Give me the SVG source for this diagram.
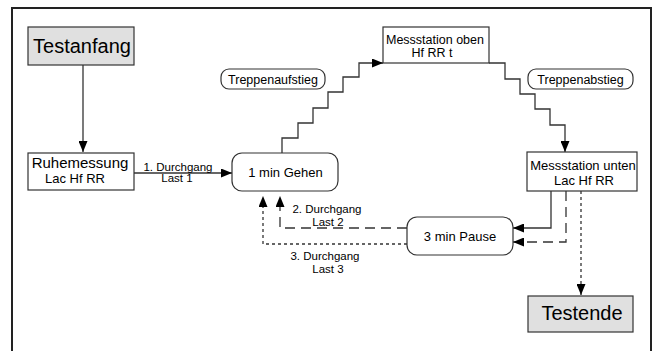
<svg xmlns="http://www.w3.org/2000/svg" width="656" height="351" viewBox="0 0 656 351">
<defs>
<marker id="ah" markerUnits="userSpaceOnUse" markerWidth="11" markerHeight="9" refX="11" refY="4.5" orient="auto">
<path d="M0,0 L11,4.5 L0,9 z" fill="#000"/>
</marker>
<style>
text{font-family:"Liberation Sans",Arial,sans-serif;fill:#000}
.box{fill:#fff;stroke:#333;stroke-width:1.2}
.gray{fill:#e0e0e0;stroke:#333;stroke-width:1.2}
.c{fill:none;stroke:#333;stroke-width:1.3}
.dash{stroke-dasharray:10 6}
.dot{stroke-dasharray:3 3}
.big{font-size:20px}
.mid{font-size:13px}
.sm{font-size:11.5px}
</style>
</defs>
<rect width="656" height="351" fill="#fff"/>
<path d="M12,360 V8 H651 V360" fill="none" stroke="#222" stroke-width="2"/>

<g id="connectors">
<path class="c" d="M83,65 V152" marker-end="url(#ah)"/>
<path class="c" d="M134,173 H232" marker-end="url(#ah)"/>
<path class="c" d="M282,153 V138 H298 V123 H313 V108 H328 V92 H343 V77 H359 V63 H383" marker-end="url(#ah)"/>
<path class="c" d="M489,63 H505 V79 H520 V94 H535 V109 H550 V125 H565 V152" marker-end="url(#ah)"/>
<path class="c" d="M551,191 V228 H513" marker-end="url(#ah)"/>
<path class="c dash" d="M566,191 V242 H513" marker-end="url(#ah)"/>
<path class="c dot" d="M581,191 V295" marker-end="url(#ah)"/>
<path class="c dash" d="M407,228 H280 V196" marker-end="url(#ah)"/>
<path class="c dot" d="M407,244 H263 V196" marker-end="url(#ah)"/>
<text class="sm" x="178" y="171" text-anchor="middle">1. Durchgang</text>
<text class="sm" x="177" y="182" text-anchor="middle">Last 1</text>
<text class="sm" x="327" y="213" text-anchor="middle">2. Durchgang</text>
<text class="sm" x="328" y="226" text-anchor="middle">Last 2</text>
<text class="sm" x="325" y="260" text-anchor="middle">3. Durchgang</text>
<text class="sm" x="328" y="273" text-anchor="middle">Last 3</text>
</g>

<g id="testanfang">
<rect class="gray" x="28" y="27" width="106" height="38"/>
<text class="big" x="82" y="53" text-anchor="middle">Testanfang</text>
</g>
<g id="ruhemessung">
<rect class="box" x="28" y="153" width="106" height="37"/>
<text class="mid" x="80" y="168" text-anchor="middle" style="font-size:15px">Ruhemessung</text>
<text class="mid" x="75" y="183" text-anchor="middle">Lac Hf RR</text>
</g>
<g id="gehen">
<rect class="box" x="232" y="153" width="106" height="38" rx="10"/>
<text class="mid" x="285.5" y="177" text-anchor="middle">1 min Gehen</text>
</g>
<g id="treppenaufstieg">
<rect class="box" x="221" y="69" width="104" height="20" rx="8"/>
<text class="mid" x="273" y="83.5" text-anchor="middle" style="font-size:12.5px">Treppenaufstieg</text>
</g>
<g id="oben">
<rect class="box" x="383" y="27" width="106" height="36"/>
<text class="mid" x="435" y="43.5" text-anchor="middle" style="font-size:12.5px">Messstation oben</text>
<text class="mid" x="432" y="57" text-anchor="middle" style="font-size:12.5px">Hf RR t</text>
</g>
<g id="treppenabstieg">
<rect class="box" x="528" y="69" width="105" height="20" rx="8"/>
<text class="mid" x="580.5" y="83.5" text-anchor="middle" style="font-size:12.5px">Treppenabstieg</text>
</g>
<g id="unten">
<rect class="box" x="527" y="152" width="110" height="39"/>
<text class="mid" x="583" y="170" text-anchor="middle">Messstation unten</text>
<text class="mid" x="584" y="185" text-anchor="middle">Lac Hf RR</text>
</g>
<g id="pause">
<rect class="box" x="407" y="217" width="106" height="38" rx="10"/>
<text class="mid" x="460" y="241" text-anchor="middle">3 min Pause</text>
</g>
<g id="testende">
<rect class="gray" x="528" y="296" width="105" height="36"/>
<text class="big" x="582" y="320" text-anchor="middle">Testende</text>
</g>
</svg>
